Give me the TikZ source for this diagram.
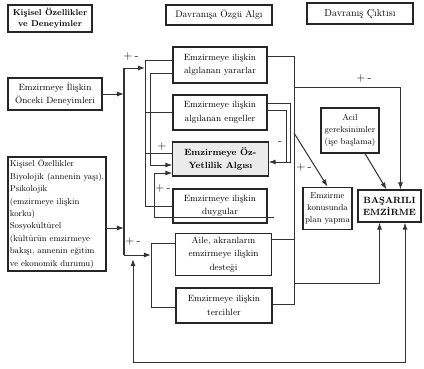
\documentclass[tikz,border=0pt]{standalone}
\usepackage{fontspec}
\usetikzlibrary{arrows.meta,calc}

\begin{document}
\begin{tikzpicture}[x=0.035cm,y=-0.035cm,
  kutu/.style={draw=black!85, line width=1.1pt, rectangle, align=center, inner sep=1pt, font=\fontsize{9}{13.5}\selectfont},
  baslik/.style={kutu, line width=1.2pt, font=\fontsize{9.5}{12}\selectfont},
  cizgi/.style={draw=black!80, line width=1pt},
  ok/.style={cizgi, -{Latex[length=7pt,width=5pt]}},
  iki/.style={cizgi, {Latex[length=7pt,width=5pt]}-{Latex[length=7pt,width=5pt]}},
  isaret/.style={font=\large, inner sep=0pt}]
                \useasboundingbox (0,0) rectangle (424,368);
                \node[baslik, font=\bfseries\fontsize{8.5}{11}\selectfont, minimum width=2.94cm, minimum height=0.945cm] (h1) at (50,18.5) {Kişisel Özellikler\\ve Deneyimler};
                \node[baslik, minimum width=3.71cm, minimum height=0.7cm] (h2) at (219,15) {Davranışa Özgü Algı};
                \node[baslik, font=\fontsize{10}{12}\selectfont, minimum width=3.71cm, minimum height=0.735cm] (h3) at (360,13.5) {Davranış Çıktısı};
                \node[kutu, minimum width=3.29cm, minimum height=1.12cm] (onceki) at (55,94) {Emzirmeye İlişkin\\Önceki Deneyimleri};
                \node[kutu, align=left, font=\fontsize{8.5}{12.4}\selectfont, minimum width=3.43cm, minimum height=3.99cm] (kisisel) at (57,214) {Kişisel Özellikler\\Biyolojik (annenin yaşı),\\Psikolojik\\(emzirmeye ilişkin\\korku)\\Sosyokültürel\\(kültürün emzirmeye\\bakışı, annenin eğitim\\ve ekonomik durumu)};
                \node[kutu, minimum width=3.29cm, minimum height=1.26cm] (b1) at (220,65) {Emzirmeye ilişkin\\algılanan yararlar};
                \node[kutu, minimum width=3.29cm, minimum height=1.225cm] (b2) at (220,112.5) {Emzirmeye ilişkin\\algılanan engeller};
                \node[kutu, fill=black!8, font=\bfseries\fontsize{9}{13.5}\selectfont, minimum width=3.33cm, minimum height=1.19cm] (b3) at (220.5,159) {Emzirmeye Öz-\\Yetlilik Algısı};
                \node[kutu, minimum width=3.29cm, minimum height=1.19cm] (b4) at (220,206) {Emzirmeye ilişkin\\duygular};
                \node[kutu, minimum width=3.33cm, minimum height=1.5cm] (b5) at (223.5,254.5) {Aile, akranların\\emzirmeye ilişkin\\desteği};
                \node[kutu, minimum width=3.36cm, minimum height=1.225cm] (b6) at (224,305.5) {Emzirmeye ilişkin\\tercihler};
                \node[kutu, font=\fontsize{8.5}{12}\selectfont, minimum width=2.03cm, minimum height=1.575cm] (acil) at (350,130.5) {Acil\\gereksinimler\\(işe başlama)};
                \node[kutu, font=\fontsize{8.5}{12.4}\selectfont, minimum width=1.715cm, minimum height=1.5cm] (plan) at (327.5,208.5) {Emzirme\\konusunda\\plan yapma};
                \node[kutu, line width=1.2pt, font=\bfseries\fontsize{9}{12}\selectfont, minimum width=2.2cm, minimum height=1.12cm] (basarili) at (389.5,206) {BAŞARILI\\EMZİRME};

                \coordinate (solust) at (124,68);
                \coordinate (solalt) at (124,255);
                \coordinate (aUst) at (145,60);
                \coordinate (bUst) at (150,73);
                \coordinate (cAlt) at (154,217);
                \coordinate (cUc) at (274,217);
                \coordinate (eUst) at (151,243);
                \coordinate (eAlt) at (151,307);
                \coordinate (gUc) at (133,259);
                \coordinate (gSol) at (133,362);
                \coordinate (gSag) at (405,362);
                \coordinate (dUst) at (294,56);
                \coordinate (dYuk) at (294,87);
                \coordinate (dCapraz) at (294,133);
                \coordinate (dOrta) at (294,283);
                \coordinate (dAlt) at (294,304);
                \coordinate (kCikis) at ($(kisisel.east)+(0,14)$);
                \coordinate (b3a) at ($(b3.west)+(0,-6)$);
                \coordinate (b5a) at ($(b5.east)+(0,-15)$);

                \draw[ok] (onceki.east) -- (onceki.east -| solust);
                \draw[ok] (kCikis) -- (kCikis -| solust);
                \draw[cizgi] (solust) -- (solalt);
                \draw[ok] (solust) -- (solust -| aUst);
                \draw[cizgi] (aUst -| b1.west) -- (aUst) |- (b4.west);
                \draw[cizgi] (b2.west -| aUst) -- (b2.west);
                \draw[cizgi] (b3a -| aUst) -- (b3a);
                \draw[ok] (bUst -| b1.west) -- (bUst) |- ($(b3.west)+(0,6)$);
                \draw[ok] (cUc) -- (cAlt) |- ($(b3.west)+(0,14)$);
                \draw[ok] (solalt) -- (solalt -| eUst);
                \draw[cizgi] (eUst -| b5.west) -- (eUst) -- (eAlt) -- (eAlt -| b6.west);
                \draw[iki] (gUc) -- (gSol) -- (gSag) -- (gSag |- basarili.south);

                \draw[cizgi] (dUst -| b1.east) -- (dUst) -- (dAlt) -- (dAlt -| b6.east);
                \draw[cizgi] (b5a) -- (b5a -| dUst);
                \draw[ok] (dYuk) -| ($(basarili.north)+(11,0)$);
                \draw[ok] (dCapraz) -- (plan.north);
                \draw[ok] (dOrta) -| ($(basarili.south)+(-10,0)$);
                \draw[ok] ($(acil.south)+(15,0)$) -- ($(basarili.north)+(-3,0)$);
                \draw[ok] ($(b2.east)+(0,-9)$) -- ++(23,0) |- ($(b3.east)+(0,3)$);
                \draw[cizgi] ($(b2.east)+(0,-2)$) -- ++(19,0) -- ++(0,52);

                \node[isaret] (pm1) at (131,56) {+\,-};
                \node[isaret] (pm2) at (133,241) {+\,-};
                \node[isaret] (p3) at (162,146) {+};
                \node[isaret] (pm4) at (163,188) {+\,-};
                \node[isaret] (m5) at (280,143) {-};
                \node[isaret] (pm6) at (304,167) {+\,-};
                \node[isaret] (pm7) at (364,78) {+\,-};
            \end{tikzpicture}
\end{document}
